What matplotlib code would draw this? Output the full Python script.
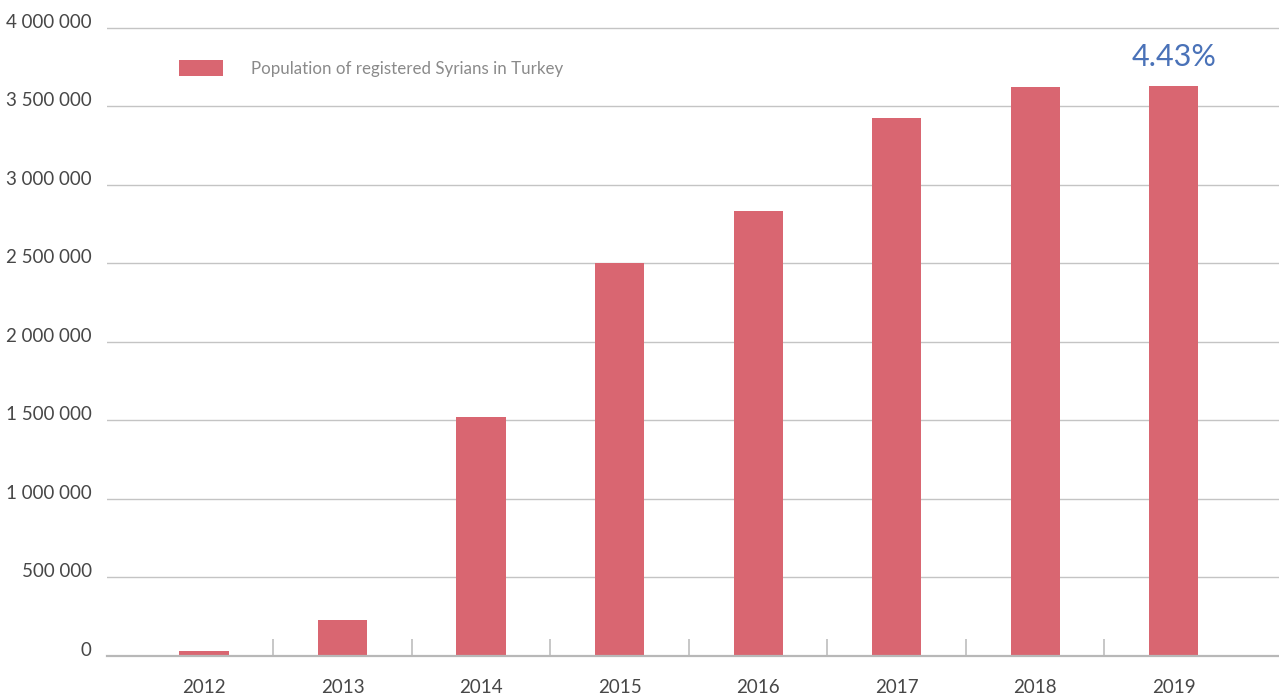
import matplotlib
matplotlib.use("Agg")
import matplotlib.pyplot as plt
from matplotlib.ticker import FuncFormatter

plt.rcParams['font.family'] = ['Lato', 'DejaVu Sans']

years = ['2012', '2013', '2014', '2015', '2016', '2017', '2018', '2019']
population = [27000, 226000, 1520000, 2501000, 2833000, 3426000, 3623000, 3630000]
y_ticks = [0, 500000, 1000000, 1500000, 2000000, 2500000, 3000000, 3500000, 4000000]
series_label = 'Population of registered Syrians in Turkey'
note = '4.43%'

bar_color = '#d96671'
grid_color = '#c4c4c4'
text_color = '#474747'

fig = plt.figure(figsize=(12.79, 6.97), dpi=100)
ax = fig.add_axes([107 / 1279, 41.5 / 697, 1 - 107 / 1279, 1 - 41.5 / 697])

x = list(range(len(years)))
ax.bar(x, population, width=0.355, color=bar_color, label=series_label, zorder=3)

ax.set_xlim(-0.70, 7.76)
ax.set_ylim(0, 4178000)

ax.set_yticks(y_ticks)
ax.yaxis.set_major_formatter(FuncFormatter(lambda v, p: f'{int(v):,}'.replace(',', ' ')))
ax.grid(axis='y', color=grid_color, linewidth=1.0, zorder=0)
ax.tick_params(axis='y', length=0, pad=11, labelsize=13.5, labelcolor=text_color)
for lab in ax.get_yticklabels():
    lab.set_verticalalignment('baseline')

ax.set_xticks(x)
ax.set_xticklabels(years)
ax.tick_params(axis='x', length=0, pad=17, labelsize=13.5, labelcolor=text_color)
ax.set_xticks([i + 0.5 for i in x[:-1]], minor=True)
ax.tick_params(axis='x', which='minor', direction='in', length=12.5, width=1.1, color='#b8b8b8')

for side in ['top', 'right', 'left']:
    ax.spines[side].set_visible(False)
ax.spines['bottom'].set_color('#b8b8b8')
ax.spines['bottom'].set_linewidth(1.6)
ax.spines['bottom'].set_zorder(4)

ax.text(x[-1], 3815000, note, ha='center', va='center', fontsize=22,
        color='#4a72b8')

leg = ax.legend(loc='upper left', bbox_to_anchor=(0.048, 0.932), frameon=False,
                fontsize=12.2, handlelength=2.65, handleheight=1.1, handletextpad=1.6)
for t in leg.get_texts():
    t.set_color('#8a8a8a')

fig.savefig('out.png', dpi=100)
